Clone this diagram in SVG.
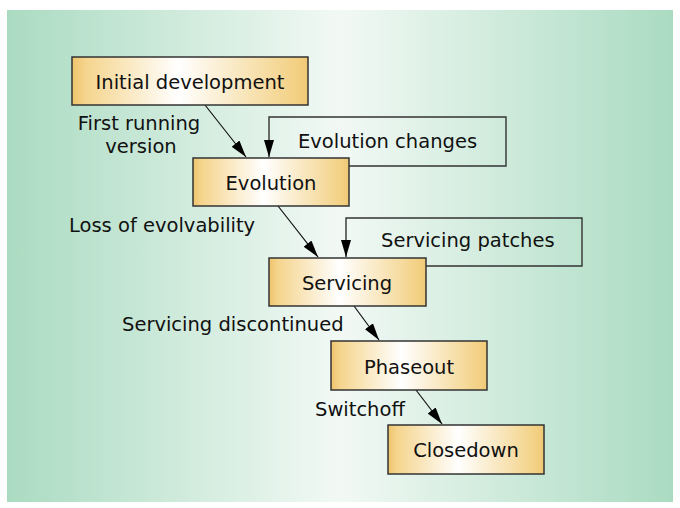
<svg xmlns="http://www.w3.org/2000/svg" width="680" height="508" viewBox="0 0 680 508">
<defs>
<linearGradient id="bg" x1="0" y1="0" x2="1" y2="0">
<stop offset="0" stop-color="#aadbc1"/>
<stop offset="0.5" stop-color="#f2f9f5"/>
<stop offset="1" stop-color="#aadbc1"/>
</linearGradient>
<linearGradient id="nodeg" x1="0" y1="0" x2="1" y2="0">
<stop offset="0" stop-color="#eec46c"/>
<stop offset="0.06" stop-color="#f5d58e"/>
<stop offset="0.45" stop-color="#ffffff"/>
<stop offset="0.95" stop-color="#f3d184"/>
<stop offset="1" stop-color="#efc875"/>
</linearGradient>
<marker id="ah" viewBox="0 0 17 10" refX="17" refY="5" markerWidth="17" markerHeight="10" markerUnits="userSpaceOnUse" orient="auto">
<path d="M0,0 L17,5 L0,10 Z" fill="#000"/>
</marker>
<style>
.node{fill:url(#nodeg);stroke:#333;stroke-width:1.5}
.t{font-family:"DejaVu Sans",sans-serif;font-size:19.5px;fill:#111}
.c{text-anchor:middle}
.conn{fill:none;stroke:#111;stroke-width:1.2}
.loop{fill:none;stroke:#333;stroke-width:1.4}
</style>
</defs>
<rect x="7" y="10" width="666" height="492" fill="url(#bg)"/>

<g id="connectors">
<path class="conn" d="M205,105 L246,157" marker-end="url(#ah)"/>
<path class="conn" d="M278,206 L318,257" marker-end="url(#ah)"/>
<path class="conn" d="M354,306 L379,340" marker-end="url(#ah)"/>
<path class="conn" d="M416,390 L442,424" marker-end="url(#ah)"/>
<path class="loop" d="M349,166 L506,166 L506,117 L269,117 L269,157" marker-end="url(#ah)"/>
<path class="loop" d="M426,266 L582,266 L582,218 L346,218 L346,257" marker-end="url(#ah)"/>
</g>

<g id="initial-development">
<rect class="node" x="72" y="57" width="236" height="48"/>
<text class="t c" x="190" y="89">Initial development</text>
</g>
<g id="evolution">
<rect class="node" x="193" y="158" width="156" height="48"/>
<text class="t c" x="271" y="190">Evolution</text>
</g>
<g id="servicing">
<rect class="node" x="269" y="258" width="157" height="48"/>
<text class="t c" x="347" y="290">Servicing</text>
</g>
<g id="phaseout">
<rect class="node" x="331" y="341" width="156" height="49"/>
<text class="t c" x="409" y="374">Phaseout</text>
</g>
<g id="closedown">
<rect class="node" x="388" y="425" width="156" height="49"/>
<text class="t c" x="466" y="457">Closedown</text>
</g>

<g id="labels">
<text class="t c" x="139" y="130">First running</text>
<text class="t c" x="141" y="153">version</text>
<text class="t" x="298" y="148">Evolution changes</text>
<text class="t" x="69" y="232">Loss of evolvability</text>
<text class="t" x="381" y="247">Servicing patches</text>
<text class="t" x="122" y="331">Servicing discontinued</text>
<text class="t" x="315" y="416">Switchoff</text>
</g>
</svg>
